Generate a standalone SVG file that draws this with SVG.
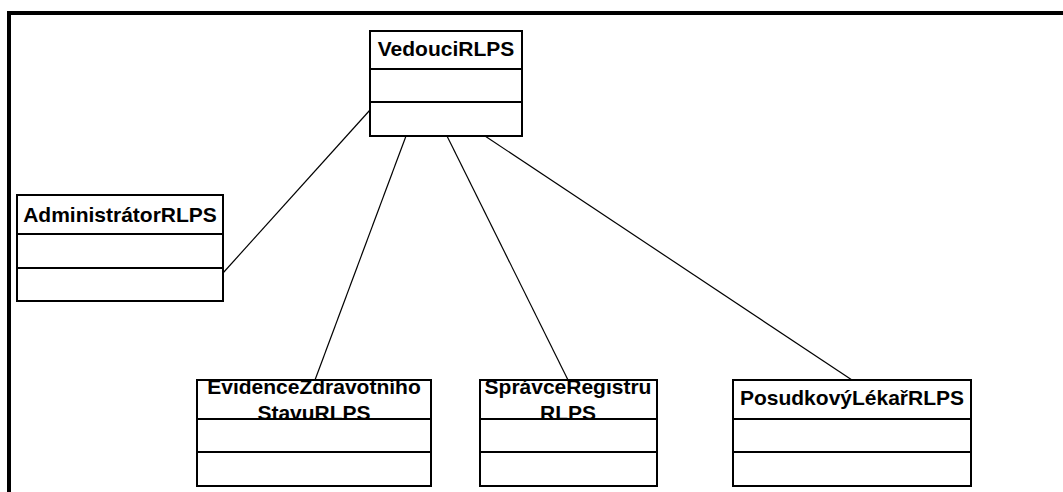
<svg xmlns="http://www.w3.org/2000/svg" width="1063" height="492" viewBox="0 0 1063 492">
  <style>
    .box { fill: #ffffff; stroke: #000000; stroke-width: 2; }
    .sep { stroke: #000000; stroke-width: 2; }
    .edge { stroke: #000000; stroke-width: 1.2; fill: none; }
    .name { font-family: "Liberation Sans", Arial, sans-serif; font-weight: bold; font-size: 21px; fill: #000000; text-anchor: middle; }
    .frame { stroke: #000000; stroke-width: 4; fill: none; }
  </style>
  <defs>
    <clipPath id="clip-evidence"><rect x="197" y="380" width="234" height="39"/></clipPath>
    <clipPath id="clip-spravce"><rect x="480" y="380" width="177" height="39"/></clipPath>
  </defs>

  <rect x="0" y="0" width="1063" height="492" fill="#ffffff"/>
  <!-- diagram frame -->
  <path class="frame" d="M9,492 V13 H1063"/>

  <g id="connectors">
    <line class="edge" x1="370" y1="110" x2="223" y2="273"/>
    <line class="edge" x1="406" y1="136" x2="315" y2="380"/>
    <line class="edge" x1="447" y1="136" x2="568" y2="380"/>
    <line class="edge" x1="485" y1="136" x2="852" y2="380"/>
  </g>

  <g id="VedouciRLPS">
    <rect class="box" x="370" y="31" width="152" height="105"/>
    <line class="sep" x1="370" y1="69" x2="522" y2="69"/>
    <line class="sep" x1="370" y1="102" x2="522" y2="102"/>
    <text class="name" x="446" y="56">VedouciRLPS</text>
  </g>

  <g id="AdministratorRLPS">
    <rect class="box" x="17" y="195" width="206" height="106"/>
    <line class="sep" x1="17" y1="234" x2="223" y2="234"/>
    <line class="sep" x1="17" y1="268" x2="223" y2="268"/>
    <text class="name" x="120" y="222">AdministrátorRLPS</text>
  </g>

  <g id="EvidenceZdravotnihoStavuRLPS">
    <rect class="box" x="197" y="380" width="234" height="106"/>
    <g clip-path="url(#clip-evidence)">
      <text class="name" x="314" y="394">EvidenceZdravotního</text>
      <text class="name" x="314" y="419.5">StavuRLPS</text>
    </g>
    <line class="sep" x1="197" y1="380" x2="431" y2="380"/>
    <line class="sep" x1="197" y1="419" x2="431" y2="419"/>
    <line class="sep" x1="197" y1="452" x2="431" y2="452"/>
  </g>

  <g id="SpravceRegistruRLPS">
    <rect class="box" x="480" y="380" width="177" height="106"/>
    <g clip-path="url(#clip-spravce)">
      <text class="name" x="568" y="394">SprávceRegistru</text>
      <text class="name" x="568" y="419.5">RLPS</text>
    </g>
    <line class="sep" x1="480" y1="380" x2="657" y2="380"/>
    <line class="sep" x1="480" y1="419" x2="657" y2="419"/>
    <line class="sep" x1="480" y1="452" x2="657" y2="452"/>
  </g>

  <g id="PosudkovyLekarRLPS">
    <rect class="box" x="733" y="380" width="238" height="106"/>
    <line class="sep" x1="733" y1="419" x2="971" y2="419"/>
    <line class="sep" x1="733" y1="452" x2="971" y2="452"/>
    <text class="name" x="852" y="405">PosudkovýLékařRLPS</text>
  </g>
</svg>
